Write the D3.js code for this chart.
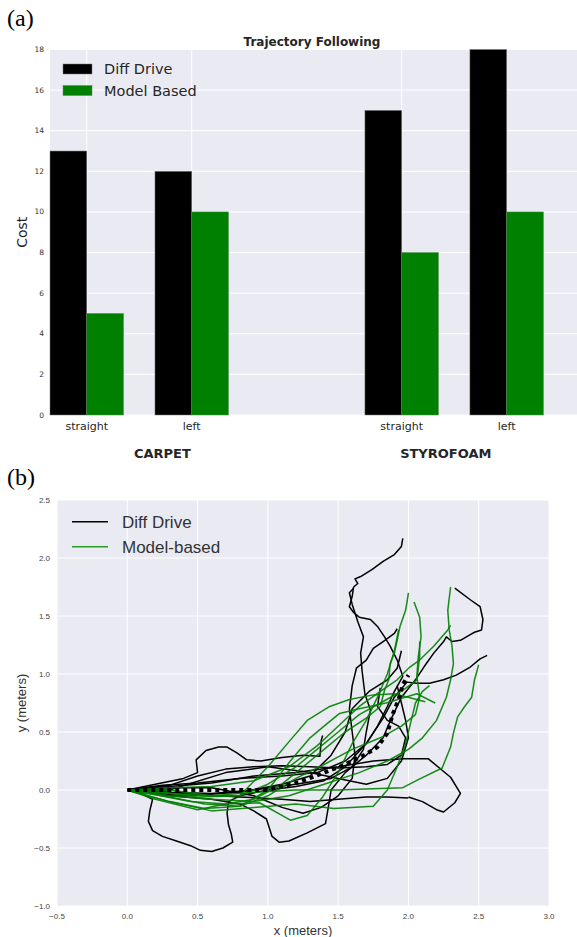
<!DOCTYPE html>
<html>
<head>
<meta charset="utf-8">
<script src="https://cdn.jsdelivr.net/npm/d3@7"></script>
<style>
  body { margin: 0; background: #fff; }
  svg { display: block; }
</style>
</head>
<body>
<svg width="577" height="937"></svg>
<script>
// ---- panel (a) data
var slotIndex = [0, 1, 3, 4];
var turnLabels = ["straight", "left", "straight", "left"];
var diffDriveCost = [13, 12, 15, 18];
var modelBasedCost = [5, 10, 8, 10];
var surfaceLabels = ["CARPET", "STYROFOAM"];
var costTicks = [0, 2, 4, 6, 8, 10, 12, 14, 16, 18];

// ---- panel (b) data, [x, y] in meters
var referencePath = [[0,0],[0.5,0],[1.0,0.0],[1.23,0.07],[1.53,0.21],[1.7,0.31],[1.78,0.37],[1.85,0.49],[1.89,0.66],[1.92,0.75],[1.94,0.82],[1.96,0.91],[2.0,0.99]];

var diffDriveRuns = [
  [[0,0],[0.25,0.04],[0.5,0.06],[0.8,0.1],[1.1,0.12],[1.35,0.15],[1.55,0.25],[1.7,0.4],[1.78,0.55],[1.85,0.72],[1.9,0.85],[1.96,0.98],[1.92,1.12],[1.87,1.24],[1.83,1.32],[1.78,1.41],[1.73,1.47],[1.65,1.49],[1.61,1.53],[1.58,1.58],[1.6,1.67],[1.61,1.75],[1.64,1.78],[1.62,1.82],[1.66,1.84],[1.74,1.9],[1.82,1.97],[1.9,2.03],[1.95,2.1],[1.96,2.17]],
  [[0,0],[0.3,-0.02],[0.6,-0.03],[0.9,0.0],[1.2,0.05],[1.45,0.1],[1.6,0.2],[1.68,0.35],[1.7,0.5],[1.73,0.69],[1.69,0.83],[1.67,1.03],[1.66,1.18],[1.68,1.32],[1.64,1.45],[1.6,1.6],[1.58,1.7],[1.61,1.74]],
  [[0,0],[0.1,-0.03],[0.18,-0.08],[0.16,-0.18],[0.15,-0.27],[0.18,-0.35],[0.25,-0.4],[0.35,-0.44],[0.45,-0.48],[0.52,-0.52],[0.6,-0.53],[0.68,-0.5],[0.75,-0.45],[0.74,-0.38],[0.72,-0.3],[0.71,-0.2],[0.72,-0.1],[0.8,-0.05],[1.0,0.0],[1.2,0.03],[1.4,0.08],[1.55,0.2],[1.7,0.4],[1.82,0.62],[1.9,0.8],[1.99,0.93],[2.06,0.92],[2.15,0.92],[2.25,0.95],[2.34,0.99],[2.44,1.06],[2.51,1.13],[2.56,1.16]],
  [[0,0],[0.3,-0.05],[0.6,-0.08],[0.8,-0.12],[0.9,-0.18],[0.99,-0.25],[1.03,-0.4],[1.08,-0.45],[1.15,-0.44],[1.28,-0.37],[1.41,-0.29],[1.43,-0.15],[1.45,0.0],[1.55,0.15],[1.7,0.3],[1.82,0.45],[1.88,0.62],[1.95,0.8],[2.05,0.95],[2.11,1.06],[2.18,1.18],[2.25,1.28],[2.27,1.32],[2.31,1.28],[2.37,1.29],[2.44,1.34],[2.47,1.36],[2.52,1.38],[2.53,1.47],[2.51,1.58],[2.44,1.64],[2.33,1.74]],
  [[0,0],[0.3,0.03],[0.6,0.06],[0.9,0.12],[1.2,0.15],[1.5,0.2],[1.75,0.25],[1.96,0.27],[2.14,0.27],[2.3,0.11],[2.37,-0.03],[2.33,-0.11],[2.25,-0.19],[2.2,-0.17],[2.1,-0.1],[2.0,-0.06]],
  [[0,0],[0.2,0.05],[0.4,0.1],[0.5,0.15],[0.49,0.26],[0.56,0.34],[0.65,0.37],[0.71,0.37],[0.78,0.32],[0.85,0.26],[0.95,0.25],[1.1,0.28],[1.25,0.3],[1.37,0.29],[1.38,0.43],[1.39,0.47]],
  [[0,0],[0.3,0.02],[0.6,0.02],[0.9,-0.05],[1.1,-0.15],[1.25,-0.2],[1.38,-0.15],[1.5,-0.05],[1.6,0.1],[1.62,0.3],[1.6,0.5],[1.58,0.7],[1.6,0.9],[1.63,1.05],[1.7,1.12],[1.75,1.22],[1.82,1.28],[1.9,1.35],[1.92,1.39]],
  [[0,0],[0.3,0.0],[0.7,0.15],[1.0,0.2],[1.3,0.15],[1.5,0.1],[1.7,0.05],[1.85,0.1],[1.95,0.25],[2.0,0.45],[1.98,0.6],[1.95,0.75],[1.92,0.9]],
  [[0,0],[0.4,-0.05],[0.8,-0.02],[1.1,0.05],[1.3,0.12],[1.45,0.3],[1.55,0.5],[1.6,0.7],[1.72,0.85],[1.85,0.95],[1.92,1.05],[1.95,1.2]],
  [[0,0],[0.3,0.04],[0.5,0.12],[0.7,0.18],[0.9,0.2],[1.1,0.21],[1.3,0.2],[1.5,0.19],[1.7,0.2],[1.85,0.22],[1.95,0.3],[1.98,0.45],[1.93,0.55],[1.85,0.6],[1.78,0.72],[1.8,0.88]],
  [[0,0],[0.4,-0.03],[0.8,-0.06],[1.1,-0.08],[1.3,-0.1],[1.5,-0.08],[1.7,-0.06],[1.85,-0.06],[2.0,-0.07]]
];

var modelBasedRuns = [
  [[0,0],[0.2,-0.04],[0.45,-0.1],[0.7,-0.12],[0.9,-0.08],[1.1,0.05],[1.25,0.2],[1.4,0.35],[1.55,0.5],[1.7,0.62],[1.8,0.72],[1.83,0.86],[1.86,0.95],[1.87,1.09],[1.9,1.18],[1.92,1.29],[1.94,1.41],[1.98,1.55],[1.99,1.62],[2.0,1.7]],
  [[0,0],[0.3,-0.1],[0.55,-0.16],[0.8,-0.14],[1.0,-0.05],[1.2,0.1],[1.4,0.22],[1.6,0.35],[1.8,0.45],[1.95,0.55],[2.05,0.65],[2.08,0.8],[2.06,0.98],[2.07,1.15],[2.09,1.32],[2.08,1.49],[2.04,1.62]],
  [[0,0],[0.3,-0.05],[0.6,-0.08],[0.9,-0.1],[1.15,-0.05],[1.4,0.05],[1.65,0.15],[1.85,0.25],[2.0,0.35],[2.1,0.45],[2.2,0.6],[2.27,0.8],[2.3,0.95],[2.32,1.09],[2.31,1.24],[2.29,1.38],[2.28,1.55],[2.3,1.75]],
  [[0,0],[0.25,-0.02],[0.5,-0.06],[0.8,-0.05],[1.0,0.05],[1.2,0.2],[1.35,0.35],[1.5,0.5],[1.65,0.65],[1.8,0.75],[1.95,0.85],[2.06,0.95],[2.08,1.15],[2.08,1.28]],
  [[0,0],[0.3,-0.03],[0.6,-0.05],[0.9,-0.02],[1.2,0.0],[1.5,0.0],[1.75,0.01],[1.96,0.02],[2.07,0.09],[2.24,0.19],[2.3,0.37],[2.32,0.49],[2.35,0.63],[2.4,0.72],[2.45,0.8],[2.47,0.95],[2.5,1.08]],
  [[0,0],[0.3,-0.06],[0.55,-0.12],[0.8,-0.14],[1.0,0.0],[1.16,0.25],[1.3,0.45],[1.37,0.52],[1.51,0.66],[1.65,0.7],[1.84,0.75],[2.06,0.83],[2.19,0.75]],
  [[0,0],[0.3,0.0],[0.6,-0.05],[0.8,-0.05],[1.0,0.2],[1.16,0.43],[1.28,0.6],[1.44,0.72],[1.58,0.78],[1.75,0.82],[1.9,0.83],[2.12,0.76]],
  [[0,0],[0.2,-0.08],[0.5,-0.17],[0.7,-0.12],[0.94,-0.11],[1.16,-0.26],[1.28,-0.22],[1.39,-0.06],[1.5,0.15],[1.6,0.4],[1.7,0.6],[1.78,0.8],[1.85,1.0],[1.9,1.2],[1.93,1.38]],
  [[0,0],[0.3,-0.1],[0.6,-0.18],[0.9,-0.15],[1.2,-0.12],[1.47,-0.16],[1.75,-0.14],[1.85,0.0],[1.92,0.2],[1.98,0.4],[2.02,0.6],[2.05,0.75],[2.1,0.85],[2.15,0.9]],
  [[0,0],[0.3,0.02],[0.6,0.03],[0.9,0.08],[1.15,0.2],[1.35,0.38],[1.5,0.55],[1.65,0.72],[1.8,0.85],[1.92,0.95],[2.01,1.06],[2.08,1.12],[2.18,1.24],[2.28,1.38],[2.3,1.42]]
];
var meterTicksX = [-0.5, 0.0, 0.5, 1.0, 1.5, 2.0, 2.5, 3.0];
var meterTicksY = [-1.0, -0.5, 0.0, 0.5, 1.0, 1.5, 2.0, 2.5];

var svg = d3.select("svg");
var bg = "#EAEAF2";
var sans = "'DejaVu Sans', sans-serif";
var arial = "'Liberation Sans', Arial, sans-serif";

// ================= panel (a)
var xa = d3.scaleLinear().domain([-0.35, 4.67]).range([50, 577]);
var ya = d3.scaleLinear().domain([0, 18]).range([415, 49.5]);
var bw = 0.35;

svg.append("text").attr("x", 7).attr("y", 26)
  .style("font-family", "'Liberation Serif', 'Times New Roman', serif")
  .style("font-size", "24px").text("(a)");

var ga = svg.append("g");
ga.append("rect").attr("x", 50).attr("y", ya(18)).attr("width", 527).attr("height", ya(0) - ya(18)).attr("fill", bg);

ga.selectAll(".hg").data(costTicks).enter().append("line")
  .attr("x1", 50).attr("x2", 577)
  .attr("y1", d => ya(d)).attr("y2", d => ya(d))
  .attr("stroke", "#fff").attr("stroke-width", 1);
ga.selectAll(".vg").data(slotIndex).enter().append("line")
  .attr("x1", d => xa(d)).attr("x2", d => xa(d))
  .attr("y1", ya(0)).attr("y2", ya(18))
  .attr("stroke", "#fff").attr("stroke-width", 1);

ga.selectAll(".dd").data(diffDriveCost).enter().append("rect")
  .attr("x", (d, i) => xa(slotIndex[i] - bw))
  .attr("width", xa(bw) - xa(0))
  .attr("y", d => ya(d)).attr("height", d => ya(0) - ya(d))
  .attr("fill", "#000").attr("stroke", "#777").attr("stroke-width", 0.5);
ga.selectAll(".mb").data(modelBasedCost).enter().append("rect")
  .attr("x", (d, i) => xa(slotIndex[i]))
  .attr("width", xa(bw) - xa(0))
  .attr("y", d => ya(d)).attr("height", d => ya(0) - ya(d))
  .attr("fill", "#008000").attr("stroke", "#4a8a4a").attr("stroke-width", 0.5);

ga.selectAll(".yt").data(costTicks).enter().append("text")
  .attr("x", 44).attr("y", d => ya(d) + 2.5)
  .attr("text-anchor", "end")
  .style("font-family", sans).style("font-size", "7.5px").attr("fill", "#333")
  .text(d => d);

ga.selectAll(".xt").data(turnLabels).enter().append("text")
  .attr("x", (d, i) => xa(slotIndex[i])).attr("y", 430)
  .attr("text-anchor", "middle")
  .style("font-family", sans).style("font-size", "11px").attr("fill", "#262626")
  .text(d => d);

var surfaceAt = [0.72, 3.42];
ga.selectAll(".grp").data(surfaceLabels).enter().append("text")
  .attr("x", (d, i) => xa(surfaceAt[i])).attr("y", 458)
  .attr("text-anchor", "middle")
  .style("font-family", sans).style("font-size", "13px").style("font-weight", "bold").attr("fill", "#262626")
  .text(d => d);

ga.append("text").attr("x", 312).attr("y", 46).attr("text-anchor", "middle")
  .style("font-family", sans).style("font-size", "12px").style("font-weight", "bold").attr("fill", "#262626")
  .text("Trajectory Following");

ga.append("text").attr("transform", "translate(27," + ((ya(0) + ya(18)) / 2) + ") rotate(-90)")
  .attr("text-anchor", "middle")
  .style("font-family", sans).style("font-size", "14px").attr("fill", "#262626")
  .text("Cost");

var legA = [["Diff Drive", "#000"], ["Model Based", "#008000"]];
legA.forEach(function(l, i) {
  ga.append("rect").attr("x", 63).attr("y", 64 + i * 21.5).attr("width", 29).attr("height", 10)
    .attr("fill", l[1]).attr("stroke", "#777").attr("stroke-width", 0.5);
  ga.append("text").attr("x", 104).attr("y", 74 + i * 21.5)
    .style("font-family", sans).style("font-size", "14.5px").attr("fill", "#262626")
    .text(l[0]);
});

// ================= panel (b)
var xb = d3.scaleLinear().domain([-0.5, 3.0]).range([57, 549]);
var yb = d3.scaleLinear().domain([-1.0, 2.5]).range([906, 500]);

svg.append("text").attr("x", 7).attr("y", 485)
  .style("font-family", "'Liberation Serif', 'Times New Roman', serif")
  .style("font-size", "24px").text("(b)");

var gb = svg.append("g");
gb.append("rect").attr("x", xb(-0.5)).attr("y", yb(2.5))
  .attr("width", xb(3.0) - xb(-0.5)).attr("height", yb(-1.0) - yb(2.5)).attr("fill", bg);
gb.append("clipPath").attr("id", "clipb").append("rect")
  .attr("x", xb(-0.5)).attr("y", yb(2.5))
  .attr("width", xb(3.0) - xb(-0.5)).attr("height", yb(-1.0) - yb(2.5));

gb.selectAll(".hg").data(meterTicksY).enter().append("line")
  .attr("x1", xb(-0.5)).attr("x2", xb(3.0))
  .attr("y1", d => yb(d)).attr("y2", d => yb(d))
  .attr("stroke", "#fff").attr("stroke-width", 1);
gb.selectAll(".vg").data(meterTicksX).enter().append("line")
  .attr("x1", d => xb(d)).attr("x2", d => xb(d))
  .attr("y1", yb(-1.0)).attr("y2", yb(2.5))
  .attr("stroke", "#fff").attr("stroke-width", 1);

var line = d3.line().x(d => xb(d[0])).y(d => yb(d[1]));
var paths = gb.append("g").attr("clip-path", "url(#clipb)");

paths.selectAll(".dd").data(diffDriveRuns).enter().append("path")
  .attr("d", line).attr("fill", "none")
  .attr("stroke", "#000").attr("stroke-width", 1.5).attr("stroke-linejoin", "round");
paths.selectAll(".mb").data(modelBasedRuns).enter().append("path")
  .attr("d", line).attr("fill", "none")
  .attr("stroke", "#008000").attr("stroke-opacity", 0.9).attr("stroke-width", 1.5).attr("stroke-linejoin", "round");
paths.append("path").datum(referencePath)
  .attr("d", line).attr("fill", "none")
  .attr("stroke", "#000").attr("stroke-width", 4).attr("stroke-dasharray", "4,4");

gb.selectAll(".yt").data(meterTicksY).enter().append("text")
  .attr("x", 50).attr("y", d => yb(d) + 3)
  .attr("text-anchor", "end")
  .style("font-family", arial).style("font-size", "8px").attr("fill", "#444")
  .text(d => d3.format(".1f")(d).replace("-", "\u2212"));
gb.selectAll(".xt").data(meterTicksX).enter().append("text")
  .attr("x", d => xb(d)).attr("y", 919)
  .attr("text-anchor", "middle")
  .style("font-family", arial).style("font-size", "8px").attr("fill", "#444")
  .text(d => d3.format(".1f")(d).replace("-", "\u2212"));

gb.append("text").attr("x", (xb(-0.5) + xb(3.0)) / 2).attr("y", 935).attr("text-anchor", "middle")
  .style("font-family", arial).style("font-size", "13px").attr("fill", "#333")
  .text("x (meters)");
gb.append("text").attr("transform", "translate(26," + ((yb(-1.0) + yb(2.5)) / 2) + ") rotate(-90)")
  .attr("text-anchor", "middle")
  .style("font-family", arial).style("font-size", "13px").attr("fill", "#333")
  .text("y (meters)");

var legB = [["Diff Drive", "#000"], ["Model-based", "#2a9a2a"]];
legB.forEach(function(l, i) {
  gb.append("line").attr("x1", 72).attr("x2", 108)
    .attr("y1", 521.7 + i * 25).attr("y2", 521.7 + i * 25)
    .attr("stroke", l[1]).attr("stroke-width", 1.5);
  gb.append("text").attr("x", 122).attr("y", 527.5 + i * 25)
    .style("font-family", arial).style("font-size", "17px").attr("fill", "#333")
    .text(l[0]);
});
</script>
</body>
</html>
